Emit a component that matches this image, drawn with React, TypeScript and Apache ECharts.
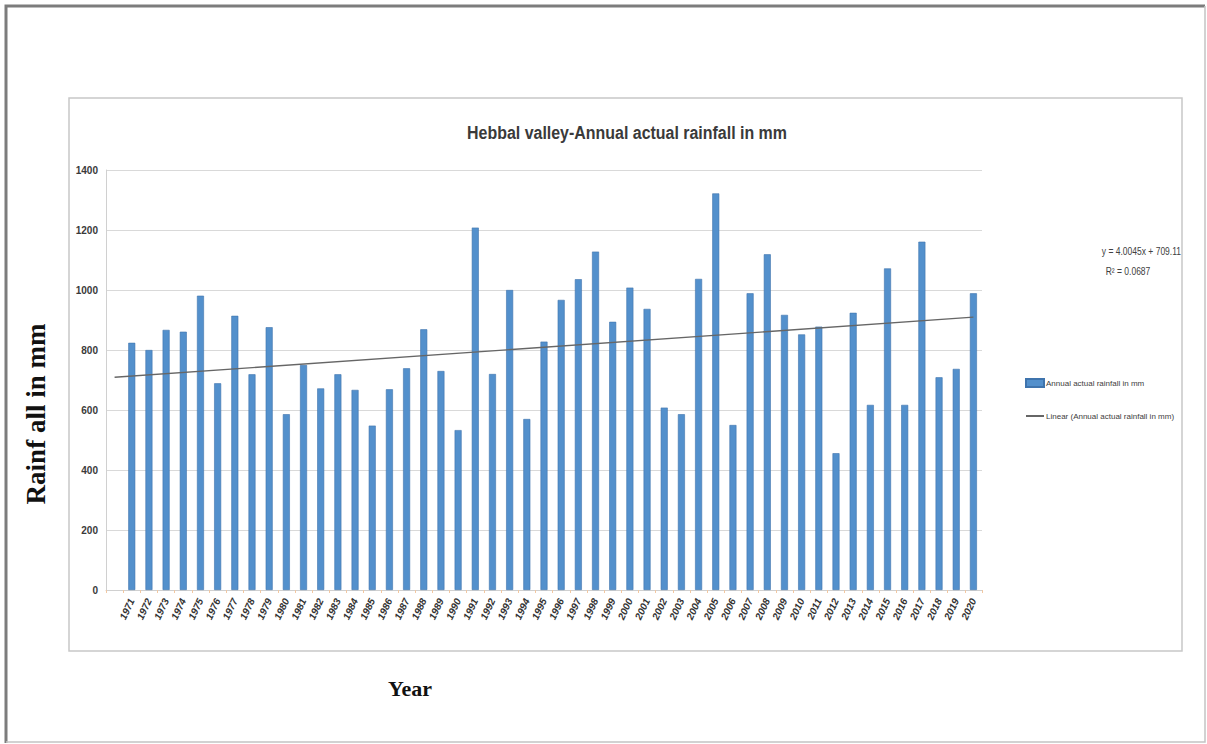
import React, { useEffect, useRef } from "react";
import * as echarts from "echarts";

const years = [
  "1971", "1972", "1973", "1974", "1975", "1976", "1977", "1978", "1979", "1980",
  "1981", "1982", "1983", "1984", "1985", "1986", "1987", "1988", "1989", "1990",
  "1991", "1992", "1993", "1994", "1995", "1996", "1997", "1998", "1999", "2000",
  "2001", "2002", "2003", "2004", "2005", "2006", "2007", "2008", "2009", "2010",
  "2011", "2012", "2013", "2014", "2015", "2016", "2017", "2018", "2019", "2020",
];

const rainfall = [
  824, 800, 867, 861, 981, 689, 914, 719, 876, 586,
  750, 672, 719, 667, 548, 669, 739, 869, 730, 533,
  1208, 720, 1000, 570, 828, 967, 1036, 1128, 894, 1008,
  937, 608, 586, 1037, 1322, 550, 989, 1119, 917, 852,
  878, 456, 924, 617, 1072, 617, 1161, 709, 737, 989,
];

// trend line end points (y = 4.0045x + 709.11)
const trendStart = 709.11;
const trendEnd = 909.34;

const yTicks = { min: 0, max: 1400, interval: 200 };

const titleText = "Hebbal valley-Annual actual rainfall in mm";
const barName = "Annual actual rainfall in mm";
const lineName = "Linear (Annual actual rainfall in mm)";
const equationText = "y = 4.0045x + 709.11";
const r2Text = "R² = 0.0687";

const SANS = '"Liberation Sans", Arial, sans-serif';
const SERIF = '"Liberation Serif", "DejaVu Serif", serif';

export default function App() {
  const ref = useRef<HTMLDivElement>(null);

  useEffect(() => {
    if (!ref.current) return;
    const chart = echarts.init(ref.current, undefined, { renderer: "svg" });

    const categories = ["", ...years];
    const barData = [null, ...rainfall];
    const lineData: (number | null)[] = categories.map(() => null);
    lineData[0] = trendStart;
    lineData[categories.length - 1] = trendEnd;

    chart.setOption({
      animation: false,
      backgroundColor: "#ffffff",
      legend: {
        orient: "vertical",
        left: 1025,
        top: 378,
        padding: 0,
        itemWidth: 18,
        itemHeight: 8,
        itemGap: 24,
        textStyle: { fontFamily: SANS, fontSize: 8, color: "#404040", padding: [0, 0, 0, -3] },
        data: [
          { name: barName, icon: "rect" },
          { name: lineName, itemStyle: { opacity: 0 } },
        ],
      },
      grid: { left: 106, right: 225, top: 170, bottom: 154, containLabel: false },
      xAxis: {
        type: "category",
        data: categories,
        boundaryGap: true,
        axisLine: { lineStyle: { color: "#d0d0d0", width: 1 } },
        axisTick: { show: true, length: 3, lineStyle: { color: "#f2c8a2" } },
        axisLabel: {
          interval: 0,
          rotate: 65,
          fontFamily: SANS,
          fontSize: 10,
          fontWeight: "bold",
          fontStyle: "italic",
          color: "#333333",
          margin: 9,
        },
        splitLine: { show: false },
      },
      yAxis: {
        type: "value",
        min: yTicks.min,
        max: yTicks.max,
        interval: yTicks.interval,
        axisLine: { show: true, lineStyle: { color: "#d0d0d0" } },
        axisTick: { show: false },
        axisLabel: {
          fontFamily: SANS,
          fontSize: 10,
          fontWeight: "bold",
          color: "#3a3a3a",
          margin: 8,
          formatter: (v: number) => String(v),
        },
        splitLine: { lineStyle: { color: "#d9d9d9", width: 1 } },
      },
      series: [
        {
          name: barName,
          type: "bar",
          data: barData,
          barWidth: 7,
          itemStyle: { color: "#5390cc", borderColor: "#3f74ad", borderWidth: 0.6 },
        },
        {
          name: lineName,
          type: "line",
          data: lineData,
          connectNulls: true,
          symbol: "none",
          lineStyle: { color: "#666666", width: 1.3 },
          itemStyle: { color: "#666666" },
          z: 3,
        },
      ],
      graphic: [
        // outer frame
        {
          type: "polyline",
          shape: { points: [[6, 743], [6, 6], [1205, 6]] },
          style: { stroke: "#7c7c7c", lineWidth: 3, fill: "none" },
          silent: true,
        },
        {
          type: "polyline",
          shape: { points: [[1205, 6], [1205, 742], [6, 742]] },
          style: { stroke: "#c4c4c4", lineWidth: 1.5, fill: "none" },
          silent: true,
        },
        // inner chart box
        {
          type: "rect",
          shape: { x: 69, y: 98, width: 1113, height: 553 },
          style: { stroke: "#c8c8c8", lineWidth: 1.5, fill: "none" },
          silent: true,
        },
        {
          type: "text",
          x: 627,
          y: 133,
          scaleX: 0.84,
          style: {
            text: titleText,
            fontFamily: SANS,
            fontSize: 19,
            fontWeight: "bold",
            fill: "#3a3a3a",
            align: "center",
            verticalAlign: "middle",
          },
          silent: true,
        },
        {
          type: "text",
          x: 1181,
          y: 252,
          scaleX: 0.85,
          style: {
            text: equationText,
            fontFamily: SANS,
            fontSize: 10,
            fill: "#404040",
            align: "right",
            verticalAlign: "middle",
          },
          silent: true,
        },
        {
          type: "text",
          x: 1128,
          y: 272,
          scaleX: 0.85,
          style: {
            text: r2Text,
            fontFamily: SANS,
            fontSize: 10,
            fill: "#404040",
            align: "center",
            verticalAlign: "middle",
          },
          silent: true,
        },
        {
          type: "text",
          x: 36,
          y: 414,
          rotation: Math.PI / 2,
          style: {
            text: "Rainf all in mm",
            fontFamily: SERIF,
            fontSize: 27,
            fontWeight: "bold",
            fill: "#111111",
            align: "center",
            verticalAlign: "middle",
          },
          silent: true,
        },
        {
          type: "text",
          x: 410,
          y: 688,
          style: {
            text: "Year",
            fontFamily: SERIF,
            fontSize: 22,
            fontWeight: "bold",
            fill: "#111111",
            align: "center",
            verticalAlign: "middle",
          },
          silent: true,
        },
      ],
    });

    return () => chart.dispose();
  }, []);

  return (
    <div
      ref={ref}
      style={{ position: "fixed", left: 0, top: 0, width: 1207, height: 744, background: "#fff" }}
    />
  );
}
